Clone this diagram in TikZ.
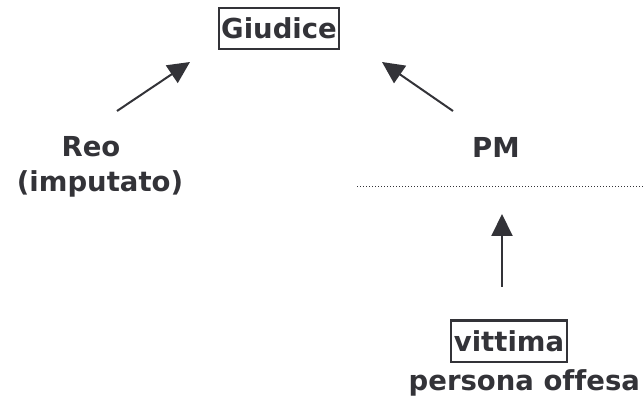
\documentclass[tikz,border=0pt]{standalone}
\usepackage{fontspec}
\setmainfont[Ligatures=NoCommon]{DejaVu Sans}
\usetikzlibrary{arrows.meta}
\definecolor{ink}{RGB}{51,51,56}
\begin{document}
\begin{tikzpicture}[x=1pt, y=-1pt, line width=2pt, draw=ink, text=ink,
    lbl/.style = {font=\fontsize{27.5}{30}\selectfont\bfseries, inner sep=0pt},
    boxnode/.style = {lbl, draw, inner xsep=2.5pt, minimum height=41pt},
    arr/.style = {-{Triangle[length=22pt, width=21pt]}}]
  \useasboundingbox (0,0) rectangle (643,398);

  \node[boxnode] (G) at (279,28.5) {Giudice};
  \node[lbl, anchor=base] (R) at (91,157) {Reo};
  \node[lbl, anchor=base] (I) at (100,192) {(imputato)};
  \node[lbl, anchor=base] (P) at (496,158) {PM};
  \node[boxnode] (V) at (509,341) {vittima};
  \node[lbl, anchor=base east] (O) at (641,390) {persona offesa};

  \coordinate (l0) at (117,111);
  \coordinate (l1) at (190,62);
  \coordinate (r0) at (453,111);
  \coordinate (r1) at (382,62);
  \coordinate (v0) at (502,287);
  \coordinate (v1) at (502,214);
  \coordinate (d0) at (357,187);
  \coordinate (d1) at (643,187);

  \draw[arr] (l0) to (l1);
  \draw[arr] (r0) to (r1);
  \draw[arr] (v0) to (v1);
  \draw[line width=1pt, dotted] (d0) to (d1);
\end{tikzpicture}
\end{document}
